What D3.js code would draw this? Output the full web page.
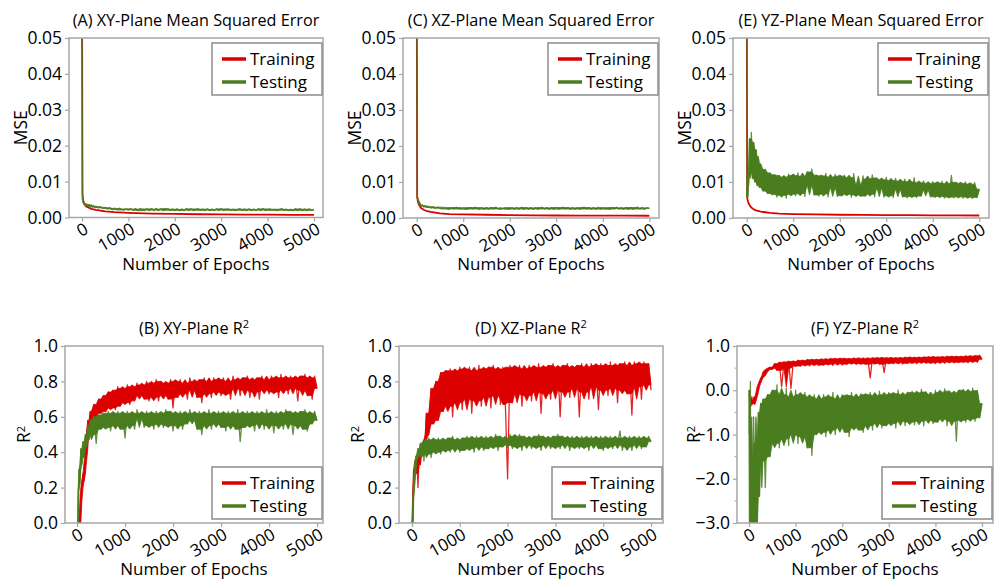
<!DOCTYPE html>
<html>
<head>
<meta charset="utf-8">
<script src="https://cdn.jsdelivr.net/npm/d3@7"></script>
<style>
  body { margin: 0; background: #fff; }
  svg { display: block; font-family: "Open Sans", sans-serif; }
</style>
</head>
<body>
<svg id="chart" width="997" height="582"></svg>
<script>
// epochs used by the noisy series
const epochs = [0, 10, 20, 30, 40, 60, 80, 100, 125, 150,
  175, 200, 225, 250, 275, 300, 350, 400, 450, 500,
  550, 600, 650, 700, 750, 800, 850, 900, 950, 1000,
  1050, 1100, 1150, 1200, 1250, 1300, 1350, 1400, 1450, 1500,
  1550, 1600, 1650, 1700, 1750, 1800, 1850, 1900, 1950, 2000,
  2050, 2100, 2150, 2200, 2250, 2300, 2350, 2400, 2450, 2500,
  2550, 2600, 2650, 2700, 2750, 2800, 2850, 2900, 2950, 3000,
  3050, 3100, 3150, 3200, 3250, 3300, 3350, 3400, 3450, 3500,
  3550, 3600, 3650, 3700, 3750, 3800, 3850, 3900, 3950, 4000,
  4050, 4100, 4150, 4200, 4250, 4300, 4350, 4400, 4450, 4500,
  4550, 4600, 4650, 4700, 4750, 4800, 4850, 4900, 4950, 5000];

// epochs for the smooth MSE training curves
const mseTrainEpochs = [0, 10, 20, 30, 50, 75, 100, 150, 200, 300, 400, 500, 700, 1000, 1500, 2000, 2500, 3000, 3500, 4000, 4500, 5000];

const xTicks = [0, 1000, 2000, 3000, 4000, 5000];
const mseTicks = [0, 0.01, 0.02, 0.03, 0.04, 0.05];
const r2Ticks = [0, 0.2, 0.4, 0.6, 0.8, 1.0];
const r2TicksF = [-3, -2, -1, 0, 1];
const r2MinorF = [-2.5, -1.5, -0.5, 0.5];
const legendLabels = ["Training", "Testing"];

// (A) XY MSE
const trainA = [0.07, 0.0065, 0.0052, 0.0045, 0.0038, 0.0033, 0.0030, 0.0027, 0.0024, 0.0021, 0.0019, 0.0017, 0.0015, 0.0013, 0.0011, 0.0010, 0.0009, 0.00085, 0.0008, 0.00078, 0.00075, 0.00072];
const testA = [0.08, 0.0055, 0.0048, 0.0042, 0.0039, 0.0036, 0.0034, 0.0038, 0.0031, 0.0036,
  0.0030, 0.0035, 0.0029, 0.0033, 0.0028, 0.0031, 0.0027, 0.0030, 0.0025, 0.0028,
  0.0024, 0.0027, 0.0022, 0.0025, 0.0021, 0.0026, 0.0023, 0.0020, 0.0024, 0.0022,
  0.0025, 0.0020, 0.0023, 0.0019, 0.0025, 0.0022, 0.0019, 0.0024, 0.0021, 0.0025,
  0.0019, 0.0023, 0.0021, 0.0025, 0.0019, 0.0022, 0.0025, 0.0020, 0.0023, 0.0019,
  0.0024, 0.0020, 0.0022, 0.0019, 0.0025, 0.0021, 0.0024, 0.0019, 0.0022, 0.0025,
  0.0020, 0.0023, 0.0019, 0.0024, 0.0021, 0.0022, 0.0019, 0.0024, 0.0021, 0.0025,
  0.0019, 0.0022, 0.0024, 0.0020, 0.0023, 0.0019, 0.0022, 0.0025, 0.0020, 0.0023,
  0.0019, 0.0024, 0.0021, 0.0022, 0.0019, 0.0024, 0.0021, 0.0025, 0.0019, 0.0022,
  0.0024, 0.0020, 0.0023, 0.0019, 0.0022, 0.0025, 0.0020, 0.0023, 0.0019, 0.0022,
  0.0020, 0.0024, 0.0019, 0.0024, 0.0020, 0.0023, 0.0019, 0.0024, 0.0020, 0.0022];

// (C) XZ MSE
const trainC = [0.07, 0.0060, 0.0050, 0.0043, 0.0036, 0.0031, 0.0027, 0.0023, 0.0020, 0.0017, 0.0015, 0.0013, 0.0011, 0.0010, 0.0009, 0.0008, 0.00075, 0.0007, 0.00068, 0.00066, 0.00064, 0.00062];
const testC = [0.075, 0.0058, 0.0055, 0.0050, 0.0046, 0.0040, 0.0036, 0.0033, 0.0036, 0.0031,
  0.0034, 0.0030, 0.0033, 0.0029, 0.0032, 0.0028, 0.0031, 0.0027, 0.0030, 0.0027,
  0.0025, 0.0030, 0.0026, 0.0024, 0.0029, 0.0025, 0.0030, 0.0026, 0.0024, 0.0029,
  0.0026, 0.0024, 0.0029, 0.0025, 0.0030, 0.0026, 0.0024, 0.0029, 0.0025, 0.0028,
  0.0024, 0.0029, 0.0025, 0.0030, 0.0026, 0.0024, 0.0027, 0.0029, 0.0025, 0.0024,
  0.0029, 0.0025, 0.0028, 0.0024, 0.0030, 0.0025, 0.0029, 0.0024, 0.0028, 0.0025,
  0.0029, 0.0024, 0.0027, 0.0030, 0.0025, 0.0028, 0.0024, 0.0029, 0.0025, 0.0029,
  0.0024, 0.0027, 0.0030, 0.0025, 0.0029, 0.0024, 0.0028, 0.0025, 0.0029, 0.0024,
  0.0027, 0.0030, 0.0025, 0.0029, 0.0024, 0.0028, 0.0025, 0.0030, 0.0024, 0.0027,
  0.0029, 0.0025, 0.0024, 0.0029, 0.0026, 0.0030, 0.0025, 0.0028, 0.0024, 0.0029,
  0.0025, 0.0029, 0.0024, 0.0028, 0.0030, 0.0025, 0.0028, 0.0024, 0.0029, 0.0027];

// (E) YZ MSE
const trainE = [0.07, 0.0058, 0.0050, 0.0045, 0.0038, 0.0033, 0.0029, 0.0024, 0.0021, 0.0018, 0.0016, 0.0014, 0.0012, 0.0011, 0.0010, 0.0009, 0.00085, 0.0008, 0.00078, 0.00075, 0.00072, 0.0007];
const testE = [0.08, 0.0060, 0.0055, 0.0120, 0.0090, 0.0220, 0.0130, 0.0238, 0.0110, 0.0210,
  0.0100, 0.0190, 0.0090, 0.0170, 0.0085, 0.0150, 0.0075, 0.0135, 0.0068, 0.0125,
  0.0065, 0.0120, 0.0058, 0.0118, 0.0063, 0.0113, 0.0055, 0.0122, 0.0066, 0.0118,
  0.0062, 0.0125, 0.0068, 0.0115, 0.0060, 0.0128, 0.0092, 0.0136, 0.0064, 0.0119,
  0.0061, 0.0117, 0.0067, 0.0124, 0.0059, 0.0113, 0.0085, 0.0121, 0.0060, 0.0116,
  0.0062, 0.0119, 0.0066, 0.0112, 0.0058, 0.0123, 0.0064, 0.0090, 0.0060, 0.0117,
  0.0061, 0.0108, 0.0066, 0.0120, 0.0059, 0.0111, 0.0083, 0.0106, 0.0058, 0.0113,
  0.0062, 0.0104, 0.0057, 0.0110, 0.0080, 0.0102, 0.0059, 0.0108, 0.0056, 0.0100,
  0.0060, 0.0112, 0.0057, 0.0098, 0.0061, 0.0103, 0.0078, 0.0096, 0.0059, 0.0101,
  0.0057, 0.0097, 0.0060, 0.0102, 0.0055, 0.0095, 0.0058, 0.0118, 0.0056, 0.0099,
  0.0059, 0.0096, 0.0055, 0.0100, 0.0058, 0.0094, 0.0054, 0.0098, 0.0057, 0.0080];

// (B) XY R2
const trainB = [-0.5, -0.4, -0.3, -0.2, -0.12, 0.0, 0.12, 0.2, 0.28, 0.24,
  0.35, 0.42, 0.58, 0.52, 0.63, 0.58, 0.67, 0.60, 0.70, 0.62,
  0.72, 0.63, 0.74, 0.65, 0.75, 0.64, 0.77, 0.66, 0.76, 0.68,
  0.78, 0.67, 0.77, 0.69, 0.79, 0.72, 0.78, 0.70, 0.80, 0.69,
  0.79, 0.71, 0.81, 0.69, 0.80, 0.72, 0.79, 0.70, 0.81, 0.65,
  0.80, 0.71, 0.81, 0.73, 0.79, 0.70, 0.82, 0.75, 0.80, 0.71,
  0.81, 0.68, 0.82, 0.73, 0.80, 0.71, 0.82, 0.74, 0.81, 0.72,
  0.82, 0.73, 0.80, 0.70, 0.83, 0.76, 0.81, 0.72, 0.82, 0.75,
  0.83, 0.71, 0.81, 0.74, 0.82, 0.70, 0.83, 0.75, 0.81, 0.73,
  0.83, 0.74, 0.82, 0.71, 0.84, 0.75, 0.82, 0.73, 0.83, 0.76,
  0.82, 0.69, 0.83, 0.75, 0.84, 0.72, 0.82, 0.70, 0.83, 0.76];
const testB = [-0.3, -0.1, 0.0, 0.18, 0.30, 0.22, 0.42, 0.33, 0.46, 0.37,
  0.50, 0.43, 0.55, 0.47, 0.58, 0.50, 0.60, 0.45, 0.61, 0.53,
  0.62, 0.54, 0.63, 0.52, 0.62, 0.55, 0.63, 0.53, 0.62, 0.48,
  0.63, 0.55, 0.62, 0.53, 0.64, 0.59, 0.62, 0.54, 0.63, 0.55,
  0.62, 0.53, 0.63, 0.56, 0.62, 0.54, 0.64, 0.55, 0.63, 0.52,
  0.62, 0.55, 0.63, 0.53, 0.62, 0.56, 0.64, 0.58, 0.62, 0.53,
  0.63, 0.50, 0.62, 0.55, 0.64, 0.53, 0.62, 0.56, 0.63, 0.54,
  0.62, 0.52, 0.63, 0.55, 0.62, 0.53, 0.64, 0.46, 0.62, 0.54,
  0.63, 0.55, 0.62, 0.52, 0.63, 0.56, 0.62, 0.53, 0.64, 0.55,
  0.62, 0.51, 0.63, 0.55, 0.62, 0.53, 0.64, 0.56, 0.63, 0.50,
  0.62, 0.55, 0.63, 0.53, 0.64, 0.52, 0.62, 0.56, 0.63, 0.58];

// (D) XZ R2
const trainD = [-0.1, 0.0, 0.12, 0.22, 0.30, 0.35, 0.28, 0.38, 0.20, 0.40,
  0.33, 0.44, 0.40, 0.47, 0.45, 0.62, 0.50, 0.76, 0.56, 0.80,
  0.58, 0.85, 0.63, 0.86, 0.66, 0.87, 0.60, 0.86, 0.68, 0.88,
  0.64, 0.87, 0.70, 0.88, 0.62, 0.86, 0.69, 0.89, 0.66, 0.87,
  0.71, 0.88, 0.65, 0.89, 0.72, 0.87, 0.67, 0.88, 0.70, 0.25,
  0.89, 0.68, 0.88, 0.73, 0.89, 0.66, 0.87, 0.72, 0.89, 0.69,
  0.88, 0.74, 0.90, 0.62, 0.88, 0.73, 0.89, 0.70, 0.90, 0.75,
  0.88, 0.60, 0.89, 0.74, 0.90, 0.71, 0.88, 0.76, 0.89, 0.60,
  0.90, 0.74, 0.88, 0.70, 0.90, 0.77, 0.89, 0.64, 0.90, 0.75,
  0.89, 0.72, 0.91, 0.76, 0.89, 0.68, 0.90, 0.75, 0.91, 0.73,
  0.89, 0.61, 0.91, 0.77, 0.90, 0.70, 0.91, 0.78, 0.90, 0.75];
const testD = [-0.05, 0.0, 0.08, 0.15, 0.22, 0.28, 0.35, 0.38, 0.42, 0.37,
  0.45, 0.38, 0.46, 0.35, 0.47, 0.39, 0.48, 0.37, 0.47, 0.40,
  0.48, 0.39, 0.47, 0.41, 0.48, 0.40, 0.49, 0.42, 0.47, 0.40,
  0.48, 0.41, 0.49, 0.42, 0.48, 0.40, 0.49, 0.43, 0.48, 0.41,
  0.49, 0.42, 0.48, 0.43, 0.50, 0.41, 0.49, 0.43, 0.48, 0.44,
  0.50, 0.42, 0.49, 0.43, 0.50, 0.41, 0.49, 0.44, 0.48, 0.42,
  0.49, 0.43, 0.50, 0.41, 0.49, 0.44, 0.48, 0.42, 0.49, 0.43,
  0.50, 0.42, 0.49, 0.44, 0.48, 0.41, 0.49, 0.43, 0.48, 0.42,
  0.49, 0.43, 0.48, 0.41, 0.49, 0.44, 0.48, 0.42, 0.49, 0.41,
  0.48, 0.43, 0.49, 0.42, 0.48, 0.44, 0.52, 0.41, 0.48, 0.43,
  0.49, 0.41, 0.48, 0.44, 0.49, 0.42, 0.48, 0.43, 0.49, 0.46];

// (F) YZ R2
const trainF = [0.0, -0.1, -0.65, -0.2, -0.35, -0.15, -0.3, -0.25, -0.32, -0.15,
  -0.05, 0.08, 0.15, 0.22, 0.28, 0.33, 0.42, 0.47, 0.52, 0.50,
  0.60, 0.45, 0.63, 0.08, 0.64, 0.50, 0.66, 0.04, 0.65, 0.55,
  0.68, 0.54, 0.67, 0.57, 0.69, 0.55, 0.70, 0.58, 0.69, 0.56,
  0.71, 0.57, 0.70, 0.59, 0.72, 0.56, 0.71, 0.60, 0.72, 0.57,
  0.72, 0.59, 0.71, 0.61, 0.73, 0.58, 0.72, 0.60, 0.73, 0.59,
  0.72, 0.28, 0.73, 0.61, 0.74, 0.59, 0.73, 0.40, 0.74, 0.61,
  0.73, 0.60, 0.74, 0.62, 0.73, 0.59, 0.75, 0.61, 0.74, 0.62,
  0.75, 0.60, 0.74, 0.63, 0.75, 0.61, 0.76, 0.62, 0.75, 0.60,
  0.76, 0.63, 0.75, 0.61, 0.77, 0.64, 0.76, 0.62, 0.77, 0.63,
  0.76, 0.64, 0.78, 0.62, 0.77, 0.65, 0.78, 0.63, 0.79, 0.70];
const testF = [0.0, -3.5, -1.0, 0.2, -3.5, -1.5, -3.5, -0.6, -3.4, -1.2,
  -3.2, -0.5, -2.4, -0.3, -1.6, -0.2, -2.2, -0.1, -1.5, 0.0,
  -1.2, 0.12, -1.3, -0.1, -1.1, 0.05, -1.25, -0.15, -1.0, 0.0,
  -1.2, -0.1, -1.05, -0.05, -1.3, -0.15, -1.47, -0.1, -1.0, -0.2,
  -0.95, -0.1, -1.05, -0.15, -0.9, -0.05, -1.0, -0.2, -0.85, -0.1,
  -0.95, -0.12, -1.05, -0.05, -0.85, -0.15, -0.9, -0.08, -0.95, -0.1,
  -0.8, -0.05, -0.9, -0.12, -0.75, -0.02, -0.85, -0.1, -0.8, -0.05,
  -0.75, -0.08, -0.85, 0.0, -0.7, -0.1, -0.8, -0.05, -0.72, -0.02,
  -0.78, -0.06, -0.7, 0.02, -0.8, -0.04, -0.68, -0.1, -0.75, 0.0,
  -0.72, -0.05, -0.65, 0.03, -0.8, -0.02, -0.7, -0.06, -1.15, 0.0,
  -0.68, 0.02, -0.72, -0.03, -0.65, 0.05, -0.7, -0.01, -0.62, -0.3];

const RED = "#dd0000", GREEN = "#4a7d1f", FRAME = "#a6a6a6";

let fmt2 = d3.format(".2f"), fmt1 = d3.format(".1f");

let panels = [
  {key: "A", title: "(A) XY-Plane Mean Squared Error", ylab: "MSE", sup: false, yDomain: [0, 0.05], yTicks: mseTicks, fmt: fmt2,
   trainX: mseTrainEpochs, train: trainA, test: testA, legend: "top",
   box: {left: 69, right: 323, top: 38, bottom: 217.5, x0: 82, x1: 314}},
  {key: "C", title: "(C) XZ-Plane Mean Squared Error", ylab: "MSE", sup: false, yDomain: [0, 0.05], yTicks: mseTicks, fmt: fmt2,
   trainX: mseTrainEpochs, train: trainC, test: testC, legend: "top",
   box: {left: 403, right: 659, top: 38, bottom: 218, x0: 416.7, x1: 649.3}},
  {key: "E", title: "(E) YZ-Plane Mean Squared Error", ylab: "MSE", sup: false, yDomain: [0, 0.05], yTicks: mseTicks, fmt: fmt2,
   trainX: mseTrainEpochs, train: trainE, test: testE, legend: "top",
   box: {left: 733, right: 989, top: 38, bottom: 218, x0: 746.7, x1: 979.3}},
  {key: "B", title: "(B) XY-Plane R", ylab: "R", sup: true, yDomain: [0, 1], yTicks: r2Ticks, fmt: fmt1,
   trainX: epochs, train: trainB, test: testB, legend: "bottom",
   box: {left: 65, right: 323, top: 346, bottom: 523, x0: 77, x1: 317}},
  {key: "D", title: "(D) XZ-Plane R", ylab: "R", sup: true, yDomain: [0, 1], yTicks: r2Ticks, fmt: fmt1,
   trainX: epochs, train: trainD, test: testD, legend: "bottom",
   box: {left: 399, right: 663, top: 346, bottom: 523, x0: 412, x1: 651}},
  {key: "F", title: "(F) YZ-Plane R", ylab: "R", sup: true, yDomain: [-3, 1], yTicks: r2TicksF, minor: r2MinorF, fmt: fmt1,
   trainX: epochs, train: trainF, test: testF, legend: "bottom",
   box: {left: 737, right: 993, top: 346, bottom: 523, x0: 749, x1: 982}}
];

// dense core of a noisy curve: 2nd lowest / 2nd highest value in a 5-point window
let bandOf = (xs, vals) => vals.map((v, i) => {
  let w = vals.slice(Math.max(0, i - 2), i + 3).sort((a, b) => a - b);
  return {x: xs[i], lo: w[1], hi: w[w.length - 2]};
});

let svg = d3.select("#chart");
let defs = svg.append("defs");

let drawPanel = (p) => {
  let b = p.box;
  let x = d3.scaleLinear().domain([0, 5000]).range([b.x0, b.x1]);
  let y = d3.scaleLinear().domain(p.yDomain).range([b.bottom, b.top]);
  let g = svg.append("g").attr("class", "panel " + p.key);
  let noisyTrain = p.sup;  // the R2 panels have noisy training curves too

  defs.append("clipPath").attr("id", "clip" + p.key)
    .append("rect")
    .attr("x", b.left).attr("y", b.top)
    .attr("width", b.right - b.left).attr("height", b.bottom - b.top);

  let line = d3.line().x(d => x(d[0])).y(d => y(d[1]));
  let area = d3.area().x(d => x(d.x)).y0(d => y(d.lo)).y1(d => y(d.hi));

  let lines = g.append("g").attr("clip-path", `url(#clip${p.key})`);

  let series = [
    {xs: p.trainX, vals: p.train, color: RED, noisy: noisyTrain},
    {xs: epochs, vals: p.test, color: GREEN, noisy: true}
  ];
  series.forEach(s => {
    if (s.noisy) {
      lines.append("path")
        .datum(bandOf(s.xs, s.vals))
        .attr("d", area)
        .attr("fill", s.color)
        .attr("stroke", s.color)
        .attr("stroke-width", 0.8);
    }
    lines.append("path")
      .datum(d3.zip(s.xs, s.vals))
      .attr("d", line)
      .attr("fill", "none")
      .attr("stroke", s.color)
      .attr("stroke-opacity", s.noisy ? 0.85 : 1)
      .attr("stroke-width", s.noisy ? 1.3 : 1.8)
      .attr("stroke-linejoin", "round");
  });

  // frame
  g.append("rect")
    .attr("x", b.left).attr("y", b.top)
    .attr("width", b.right - b.left).attr("height", b.bottom - b.top)
    .attr("fill", "none").attr("stroke", FRAME).attr("stroke-width", 1.5);

  // x axis, labels tilted like the original
  let xAxis = g.append("g")
    .attr("transform", `translate(0,${b.bottom})`)
    .call(d3.axisBottom(x).tickValues(xTicks).tickSize(4).tickFormat(d3.format("d")));
  xAxis.select(".domain").remove();
  xAxis.selectAll(".tick line").attr("stroke", FRAME).attr("stroke-width", 1.2);
  xAxis.selectAll(".tick text")
    .attr("x", null).attr("y", null).attr("dy", null)
    .attr("text-anchor", "end")
    .attr("transform", "translate(7,15) rotate(-30)")
    .style("font-size", "17px")
    .style("font-family", '"Open Sans", sans-serif')
    .attr("fill", "#000");

  // y axis
  let yAxis = g.append("g")
    .attr("transform", `translate(${b.left},0)`)
    .call(d3.axisLeft(y).tickValues(p.yTicks).tickSize(4).tickPadding(3).tickFormat(p.fmt));
  yAxis.select(".domain").remove();
  yAxis.selectAll(".tick line").attr("stroke", FRAME).attr("stroke-width", 1.2);
  yAxis.selectAll(".tick text")
    .style("font-size", "17.5px")
    .style("font-family", '"Open Sans", sans-serif')
    .attr("fill", "#000");
  if (p.minor) {
    g.selectAll(".minor")
      .data(p.minor)
      .enter().append("line")
      .attr("class", "minor")
      .attr("x1", b.left - 2.5).attr("x2", b.left)
      .attr("y1", d => y(d)).attr("y2", d => y(d))
      .attr("stroke", FRAME).attr("stroke-width", 1);
  }

  let cx = (b.left + b.right) / 2;

  // title
  let t = g.append("text")
    .attr("x", cx).attr("y", b.top - 12)
    .attr("text-anchor", "middle")
    .style("font-size", "16.2px")
    .text(p.title);
  if (p.sup) t.append("tspan").attr("dy", -6).style("font-size", "11px").text("2");

  // x label
  g.append("text")
    .attr("x", cx).attr("y", b.bottom + 52)
    .attr("text-anchor", "middle")
    .style("font-size", "17px")
    .text("Number of Epochs");

  // y label
  let off = p.sup ? (p.key === "F" ? 43 : 41) : 48;
  let yl = g.append("text")
    .attr("transform", `translate(${b.left - off},${(b.top + b.bottom) / 2}) rotate(-90)`)
    .attr("text-anchor", "middle")
    .attr("dy", "0.35em")
    .style("font-size", "17.5px")
    .text(p.ylab);
  if (p.sup) yl.append("tspan").attr("dy", "-0.45em").style("font-size", "11px").text("2");

  // legend
  let lw = 110, lh = 52;
  let lx = b.right - 1 - lw;
  let ly = p.legend === "top" ? b.top + 5 : b.bottom - 4 - lh;
  let leg = g.append("g").attr("transform", `translate(${lx},${ly})`);
  leg.append("rect")
    .attr("width", lw).attr("height", lh)
    .attr("fill", "#fff").attr("stroke", "#8c8c8c").attr("stroke-width", 1.5);
  let items = leg.selectAll(".item")
    .data(legendLabels)
    .enter().append("g")
    .attr("class", "item")
    .attr("transform", (d, i) => `translate(0,${16 + i * 23})`);
  items.append("line")
    .attr("x1", 10).attr("x2", 34)
    .attr("stroke", (d, i) => i === 0 ? RED : GREEN)
    .attr("stroke-width", 3.5);
  items.append("text")
    .attr("x", 38).attr("dy", "0.35em")
    .style("font-size", "17px")
    .text(d => d);
};

panels.forEach(p => drawPanel(p));
</script>
</body>
</html>
